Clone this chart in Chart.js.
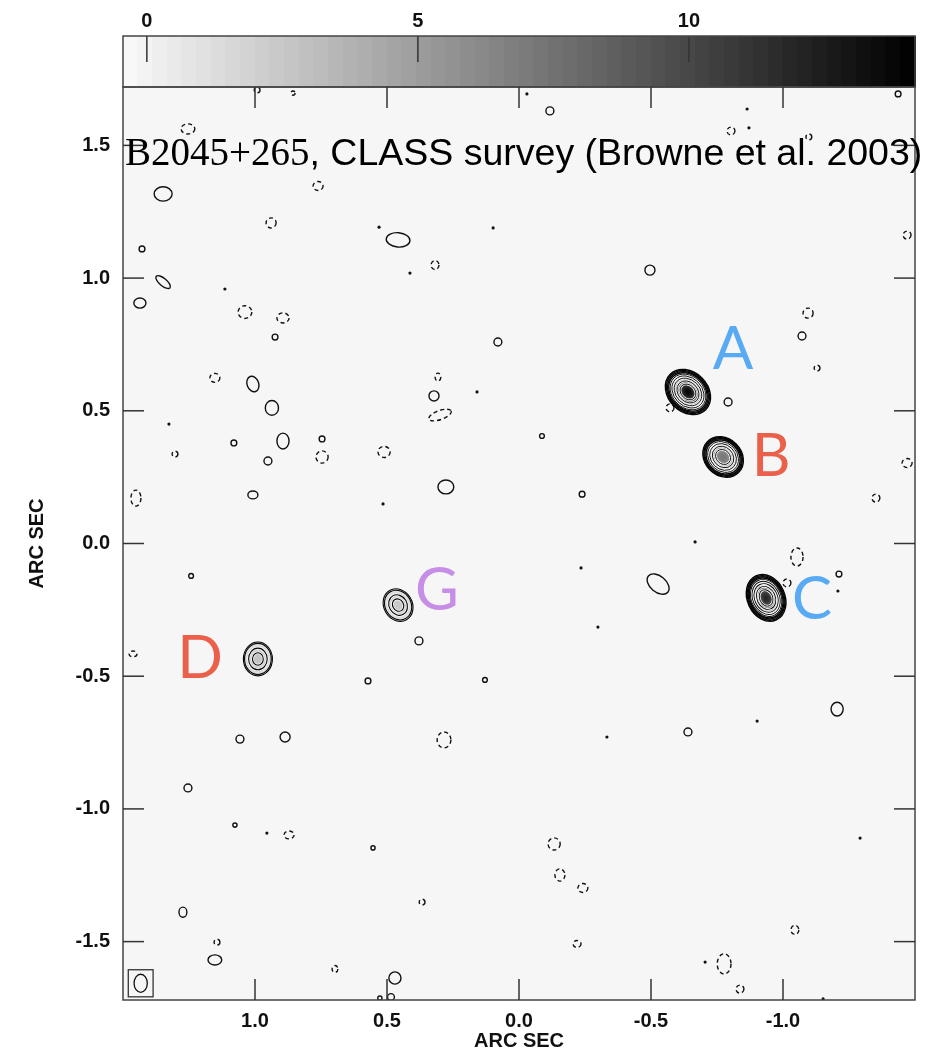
<!DOCTYPE html>
<html><head><meta charset="utf-8">
<script src="https://cdn.jsdelivr.net/npm/chart.js@4.4.0/dist/chart.umd.min.js"></script>
<style>html,body{margin:0;padding:0;background:#fff;}#wrap{width:941px;height:1052px;}</style>
</head><body><div id="wrap"><canvas id="c" width="941" height="1052"></canvas></div>
<script>
// ---------- axes ----------
const xTicks = [1.0, 0.5, 0.0, -0.5, -1.0];
const yTicks = [-1.5, -1.0, -0.5, 0.0, 0.5, 1.0, 1.5];
const xRange = [-1.5, 1.5];
const yRange = [-1.72, 1.72];
const colorbarTicks = [0, 5, 10];
const colorbarRange = [-0.44, 14.17];
const axisTitle = 'ARC SEC';
const titleSerifPart = 'B2045+265';
const titleSansPart = ', CLASS survey (Browne et al. 2003)';

// ---------- lensed images / components (arcsec) ----------
const sourceNames = ['A', 'B', 'C', 'D', 'G'];
const sourceX = [-0.640, -0.773, -0.936, 0.989, 0.458];
const sourceY = [0.571, 0.326, -0.205, -0.435, -0.232];
const sourceMajor = [0.095, 0.083, 0.092, 0.064, 0.064];
const sourceMinor = [0.075, 0.070, 0.071, 0.055, 0.054];
const sourceTilt = [45, 45, 65, 90, 60];
const sourcePeak = [13.8, 7.2, 12.0, 2.8, 2.5];
const ringsA = [1, 0.95, 0.90, 0.85, 0.79, 0.71, 0.61, 0.49, 0.35];
const ringsB = [1, 0.95, 0.90, 0.84, 0.76, 0.66, 0.53, 0.37];
const ringsC = [1, 0.95, 0.90, 0.85, 0.79, 0.71, 0.61, 0.49, 0.35];
const ringsD = [1, 0.92, 0.64, 0.37];
const ringsG = [1, 0.91, 0.63, 0.38];
const sourceRings = [ringsA, ringsB, ringsC, ringsD, ringsG];
const labelX = [-0.811, -0.955, -1.110, 1.208, 0.311];
const labelY = [0.740, 0.337, -0.202, -0.424, -0.171];
const labelColors = ['#58aaf5', '#ea604b', '#58aaf5', '#ea604b', '#c78ee6'];

// ---------- noise contours [x, y, rx, ry, tilt] ----------
const positiveContours = [
 [1.348, 1.317, 0.034, 0.027, 0], [0.458, 1.144, 0.045, 0.027, 5], [1.428, 1.110, 0.011, 0.011, 0],
 [1.348, 0.985, 0.034, 0.014, 40], [1.436, 0.906, 0.023, 0.019, 0], [0.924, 0.778, 0.011, 0.011, 0],
 [0.080, 0.759, 0.015, 0.015, 0], [1.008, 0.601, 0.022, 0.030, -20], [0.322, 0.556, 0.019, 0.019, 0],
 [0.936, 0.511, 0.025, 0.028, 0], [1.080, 0.379, 0.011, 0.011, 0], [0.894, 0.386, 0.023, 0.030, 0],
 [0.746, 0.394, 0.011, 0.011, 0], [0.951, 0.311, 0.015, 0.015, 0], [0.277, 0.213, 0.030, 0.026, 0],
 [1.008, 0.183, 0.019, 0.015, 0], [1.242, -0.122, 0.009, 0.009, 0], [0.379, -0.367, 0.015, 0.015, 0],
 [0.572, -0.518, 0.011, 0.011, 0], [0.129, -0.514, 0.009, 0.009, 0], [-0.117, 1.630, 0.015, 0.015, 0],
 [-0.496, 1.030, 0.019, 0.019, 0], [-1.072, 0.782, 0.015, 0.015, 0], [-0.792, 0.533, 0.015, 0.015, 0],
 [-0.087, 0.405, 0.009, 0.009, 0], [-0.239, 0.186, 0.011, 0.011, 0], [-0.527, -0.153, 0.048, 0.030, 40],
 [-1.212, -0.115, 0.011, 0.011, 0], [1.057, -0.737, 0.015, 0.015, 0], [0.886, -0.729, 0.019, 0.019, 0],
 [1.254, -0.921, 0.015, 0.015, 0], [1.076, -1.061, 0.008, 0.008, 0], [0.553, -1.147, 0.008, 0.008, 0],
 [1.273, -1.389, 0.015, 0.019, 0], [1.152, -1.569, 0.026, 0.019, 0], [0.470, -1.637, 0.023, 0.023, 0],
 [-0.640, -0.710, 0.015, 0.015, 0], [-1.205, -0.624, 0.023, 0.026, 0], [-1.436, 1.694, 0.011, 0.011, 0],
 [0.485, -1.709, 0.013, 0.013, 0], [0.527, -1.713, 0.008, 0.008, 0]
];
const negativeContours = [
 [0.992, 1.709, 0.011, 0.011, 0], [0.856, 1.697, 0.008, 0.008, 0], [1.254, 1.562, 0.026, 0.019, 0],
 [0.761, 1.347, 0.019, 0.017, 0], [0.939, 1.208, 0.019, 0.019, 0], [0.318, 1.049, 0.015, 0.017, 0],
 [1.038, 0.872, 0.026, 0.024, 0], [0.894, 0.850, 0.023, 0.019, 0], [1.152, 0.624, 0.019, 0.017, 0],
 [0.307, 0.627, 0.011, 0.015, 0], [0.299, 0.484, 0.045, 0.017, -20], [1.303, 0.337, 0.011, 0.011, 0],
 [0.746, 0.326, 0.023, 0.023, 0], [0.511, 0.345, 0.023, 0.021, 0], [1.451, 0.171, 0.019, 0.030, 0],
 [1.462, -0.416, 0.015, 0.011, 0], [-0.803, 1.554, 0.015, 0.015, 0], [-1.098, 1.532, 0.011, 0.011, 0],
 [-1.470, 1.162, 0.015, 0.015, 0], [-1.095, 0.868, 0.019, 0.019, 0], [-1.129, 0.661, 0.011, 0.011, 0],
 [-0.572, 0.511, 0.015, 0.015, 0], [-1.470, 0.303, 0.019, 0.017, 0], [-1.352, 0.171, 0.015, 0.015, 0],
 [-1.053, -0.051, 0.023, 0.034, 0], [-1.015, -0.149, 0.015, 0.015, 0], [0.284, -0.740, 0.026, 0.030, 0],
 [0.871, -1.098, 0.019, 0.015, 0], [0.367, -1.351, 0.011, 0.011, 0], [1.144, -1.502, 0.011, 0.011, 0],
 [0.697, -1.603, 0.011, 0.013, 0], [-0.133, -1.132, 0.023, 0.023, 0], [-0.155, -1.249, 0.019, 0.023, 0],
 [-0.242, -1.298, 0.019, 0.017, 0], [-0.220, -1.509, 0.015, 0.013, 0], [-1.045, -1.456, 0.015, 0.017, 0],
 [-0.777, -1.584, 0.026, 0.038, 0], [-0.837, -1.679, 0.015, 0.015, 0]
];
const dotContours = [
 [0.530, 1.192], [0.098, 1.189], [0.413, 1.019], [1.114, 0.959], [1.326, 0.450], [0.159, 0.571],
 [0.515, 0.149], [-0.030, 1.694], [-0.864, 1.637], [-0.871, 1.566], [-0.667, 0.006], [-0.235, -0.092],
 [-1.208, -0.179], [-0.299, -0.315], [0.955, -1.091], [-0.333, -0.729], [-0.902, -0.669],
 [-1.292, -1.110], [-0.705, -1.577], [-1.152, -1.716]
];
const dotRadius = 0.006;
// restoring beam
const beamX = [1.433];
const beamY = [-1.657];
const beamMajor = [0.034];
const beamMinor = [0.025];
const beamBoxHalf = [0.047, 0.051];

// ---------- helpers ----------
const FONT = '"Liberation Sans", Arial, sans-serif';
function grayFor(v) {
  const t = (v - colorbarRange[0]) / (colorbarRange[1] - colorbarRange[0]);
  const g = Math.max(0, Math.min(250, Math.round(250 * (1 - t))));
  return 'rgb(' + g + ',' + g + ',' + g + ')';
}
function pxLen(scale, d) { return Math.abs(scale.getPixelForValue(d) - scale.getPixelForValue(0)); }

const mapPlugin = {
  id: 'radioMap',
  beforeDatasetsDraw(chart) {
    const {ctx, chartArea: a} = chart;
    ctx.save();
    ctx.fillStyle = '#f6f6f6';
    ctx.fillRect(a.left, a.top, a.right - a.left, a.bottom - a.top);
    ctx.restore();
  },
  afterDatasetsDraw(chart) {
    const {ctx, chartArea: a} = chart;
    const xs = chart.scales.x, ys = chart.scales.y;
    ctx.save();
    ctx.beginPath(); ctx.rect(a.left, a.top, a.right - a.left, a.bottom - a.top); ctx.clip();

    const mPos = chart.getDatasetMeta(0);
    ctx.strokeStyle = '#111'; ctx.lineWidth = 1.4; ctx.setLineDash([]);
    mPos.data.forEach((el, i) => {
      const c = positiveContours[i];
      ctx.beginPath();
      ctx.ellipse(el.x, el.y, pxLen(xs, c[2]), pxLen(ys, c[3]), c[4] * Math.PI / 180, 0, 2 * Math.PI);
      ctx.stroke();
    });
    const mNeg = chart.getDatasetMeta(1);
    ctx.setLineDash([4, 3]);
    mNeg.data.forEach((el, i) => {
      const c = negativeContours[i];
      ctx.beginPath();
      ctx.ellipse(el.x, el.y, pxLen(xs, c[2]), pxLen(ys, c[3]), c[4] * Math.PI / 180, 0, 2 * Math.PI);
      ctx.stroke();
    });
    ctx.setLineDash([]);
    const mDot = chart.getDatasetMeta(2);
    ctx.fillStyle = '#111';
    mDot.data.forEach(el => {
      ctx.beginPath(); ctx.arc(el.x, el.y, pxLen(xs, dotRadius), 0, 2 * Math.PI); ctx.fill();
    });
    const mSrc = chart.getDatasetMeta(3);
    mSrc.data.forEach((el, i) => {
      const A = pxLen(xs, sourceMajor[i]), B = pxLen(xs, sourceMinor[i]);
      const peak = sourcePeak[i], edge = 0.8;
      const faint = peak < 4;
      ctx.save();
      ctx.translate(el.x, el.y);
      ctx.rotate(sourceTilt[i] * Math.PI / 180);
      ctx.save();
      ctx.scale(1, B / A);
      const g = ctx.createRadialGradient(0, 0, 0, 0, 0, A);
      for (let k = 0; k <= 10; k++) {
        const f = k / 10;
        g.addColorStop(f, grayFor(peak * Math.pow(edge / peak, f * f)));
      }
      ctx.fillStyle = g;
      ctx.beginPath(); ctx.arc(0, 0, A, 0, 2 * Math.PI); ctx.fill();
      ctx.restore();
      const rings = sourceRings[i];
      rings.forEach(f => {
        if (f > 0.8) return;
        ctx.beginPath(); ctx.ellipse(0, 0, A * f, B * f, 0, 0, 2 * Math.PI);
        ctx.strokeStyle = 'rgba(255,255,255,0.95)'; ctx.lineWidth = 2.6; ctx.stroke();
      });
      rings.forEach(f => {
        ctx.beginPath(); ctx.ellipse(0, 0, A * f, B * f, 0, 0, 2 * Math.PI);
        ctx.strokeStyle = '#050505';
        ctx.lineWidth = faint ? 1.1 : (f > 0.8 ? 1.4 : 0.9);
        ctx.stroke();
      });
      ctx.restore();
    });
    const mBeam = chart.getDatasetMeta(4);
    mBeam.data.forEach((el, i) => {
      ctx.strokeStyle = '#111'; ctx.lineWidth = 1.3;
      ctx.beginPath();
      ctx.ellipse(el.x, el.y, pxLen(xs, beamMinor[i]), pxLen(ys, beamMajor[i]), 0, 0, 2 * Math.PI);
      ctx.stroke();
      const hw = pxLen(xs, beamBoxHalf[0]), hh = pxLen(ys, beamBoxHalf[1]);
      ctx.strokeStyle = '#333';
      ctx.strokeRect(el.x - hw, el.y - hh, 2 * hw, 2 * hh);
    });
    ctx.restore();
  },
  afterDraw(chart) {
    const {ctx, chartArea: a} = chart;
    const xs = chart.scales.x, ys = chart.scales.y, cb = chart.scales.cb;
    ctx.save();
    const cbTop = 36, cbBottom = a.top;
    const N = 54;
    const step = (colorbarRange[1] - colorbarRange[0]) / N;
    for (let i = 0; i < N; i++) {
      const v0 = colorbarRange[0] + i * step;
      const p0 = cb.getPixelForValue(v0), p1 = cb.getPixelForValue(v0 + step);
      ctx.fillStyle = grayFor(v0 + step / 2);
      ctx.fillRect(Math.floor(p0), cbTop, Math.ceil(p1) - Math.floor(p0) + 1, cbBottom - cbTop);
    }
    ctx.strokeStyle = '#333'; ctx.lineWidth = 1.5;
    colorbarTicks.forEach(v => {
      const p = cb.getPixelForValue(v);
      ctx.beginPath(); ctx.moveTo(p, cbTop); ctx.lineTo(p, cbTop + 26); ctx.stroke();
    });
    ctx.strokeStyle = '#444';
    ctx.strokeRect(a.left, cbTop, a.right - a.left, cbBottom - cbTop);

    ctx.strokeStyle = '#444'; ctx.lineWidth = 1.5;
    ctx.strokeRect(a.left, a.top, a.right - a.left, a.bottom - a.top);
    ctx.strokeStyle = '#333'; ctx.lineWidth = 1.5;
    const tl = 21;
    xTicks.forEach(v => {
      const p = xs.getPixelForValue(v);
      ctx.beginPath(); ctx.moveTo(p, a.bottom); ctx.lineTo(p, a.bottom - tl); ctx.stroke();
      ctx.beginPath(); ctx.moveTo(p, a.top); ctx.lineTo(p, a.top + tl); ctx.stroke();
    });
    yTicks.forEach(v => {
      const p = ys.getPixelForValue(v);
      ctx.beginPath(); ctx.moveTo(a.left, p); ctx.lineTo(a.left + tl, p); ctx.stroke();
      ctx.beginPath(); ctx.moveTo(a.right, p); ctx.lineTo(a.right - tl, p); ctx.stroke();
    });

    ctx.fillStyle = '#000';
    ctx.textBaseline = 'alphabetic'; ctx.textAlign = 'left';
    const tx = a.left + 2, ty = a.top + 78;
    ctx.font = '39px "Liberation Serif", "Times New Roman", serif';
    ctx.fillText(titleSerifPart, tx, ty);
    const w1 = ctx.measureText(titleSerifPart).width;
    ctx.font = '37.5px ' + FONT;
    ctx.fillText(titleSansPart, tx + w1, ty);

    const mLab = chart.getDatasetMeta(5);
    ctx.font = '60px Lato, "Open Sans", sans-serif';
    ctx.textAlign = 'center';
    mLab.data.forEach((el, i) => {
      ctx.fillStyle = labelColors[i];
      ctx.fillText(sourceNames[i], el.x, el.y + 21.5);
    });
    ctx.restore();
  }
};

const tickFont = {family: FONT, size: 20, weight: 'bold'};
new Chart(document.getElementById('c'), {
  type: 'scatter',
  data: {
    datasets: [
      {label: 'positive', data: positiveContours.map(c => ({x: c[0], y: c[1]})), pointRadius: 0},
      {label: 'negative', data: negativeContours.map(c => ({x: c[0], y: c[1]})), pointRadius: 0},
      {label: 'dots', data: dotContours.map(c => ({x: c[0], y: c[1]})), pointRadius: 0},
      {label: 'sources', data: sourceX.map((x, i) => ({x, y: sourceY[i]})), pointRadius: 0},
      {label: 'beam', data: beamX.map((x, i) => ({x, y: beamY[i]})), pointRadius: 0},
      {label: 'labels', data: labelX.map((x, i) => ({x, y: labelY[i]})), pointRadius: 0}
    ]
  },
  options: {
    responsive: false,
    animation: false,
    events: [],
    layout: {padding: {left: 0, right: 26, top: 0, bottom: 0}},
    plugins: {legend: {display: false}, tooltip: {enabled: false}, title: {display: false}},
    scales: {
      x: {
        type: 'linear', position: 'bottom', min: xRange[0], max: xRange[1], reverse: true,
        afterBuildTicks: s => { s.ticks = xTicks.map(v => ({value: v})); },
        afterFit: s => { s.height = 52; },
        grid: {display: false, drawTicks: false, tickLength: 0}, border: {display: false},
        ticks: {font: tickFont, color: '#111', padding: 9, maxRotation: 0, autoSkip: false,
                callback: v => Number(v).toFixed(1)},
        title: {display: true, text: axisTitle, font: tickFont, color: '#111', padding: {top: 0, bottom: -1}}
      },
      cb: {
        axis: 'x', type: 'linear', position: 'top', min: colorbarRange[0], max: colorbarRange[1],
        afterBuildTicks: s => { s.ticks = colorbarTicks.map(v => ({value: v})); },
        afterFit: s => { s.height = 87; },
        grid: {display: false, drawTicks: false, tickLength: 0}, border: {display: false},
        ticks: {font: tickFont, color: '#111', padding: 54, maxRotation: 0, autoSkip: false,
                callback: v => String(v)}
      },
      y: {
        type: 'linear', position: 'left', min: yRange[0], max: yRange[1],
        afterBuildTicks: s => { s.ticks = yTicks.map(v => ({value: v})); },
        afterFit: s => { s.width = 123; },
        grid: {display: false, drawTicks: false, tickLength: 0}, border: {display: false},
        ticks: {font: tickFont, color: '#111', padding: 13, autoSkip: false,
                callback: v => Number(v).toFixed(1)},
        title: {display: true, text: axisTitle, font: tickFont, color: '#111', padding: {top: 25, bottom: 0}}
      }
    }
  },
  plugins: [mapPlugin]
});
</script>
</body></html>
